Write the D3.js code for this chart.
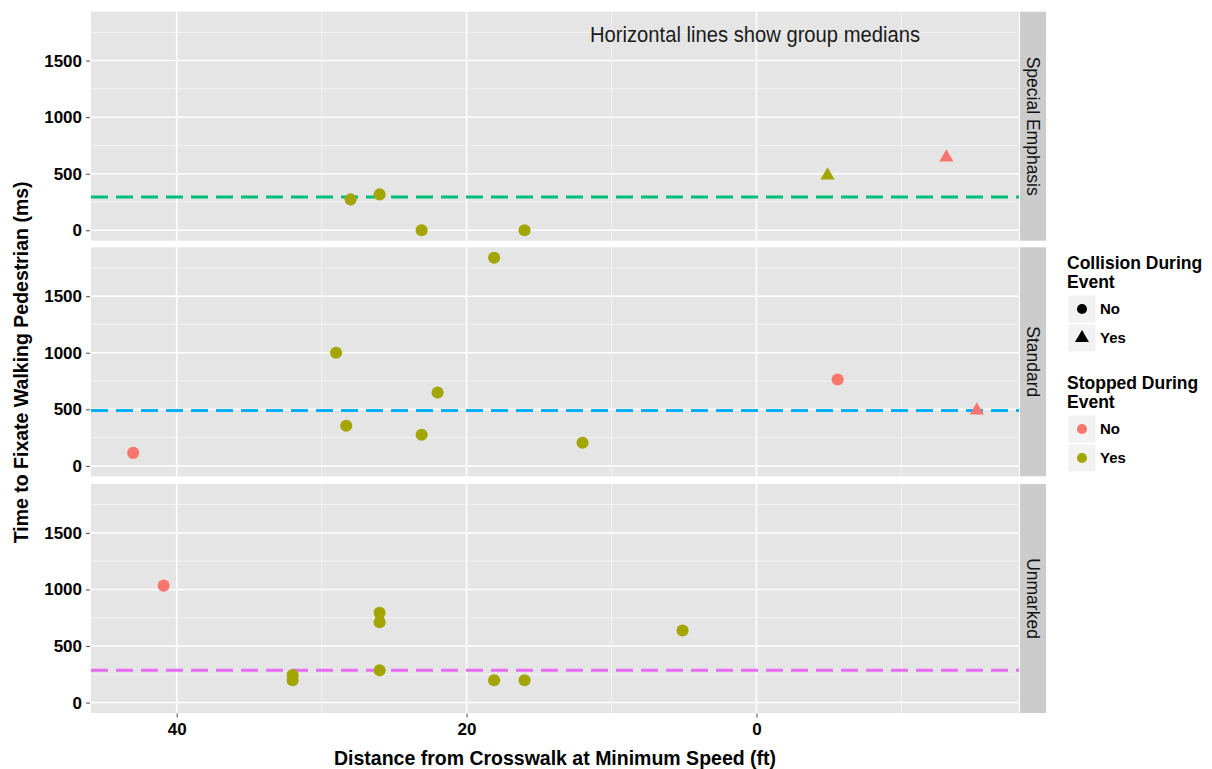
<!DOCTYPE html>
<html>
<head>
<meta charset="utf-8">
<script src="https://cdn.jsdelivr.net/npm/d3@7/dist/d3.min.js"></script>
<style>
  html, body { margin: 0; padding: 0; background: #ffffff; }
  svg text { font-family: Arial, "Liberation Sans", sans-serif; }
</style>
</head>
<body>
<svg id="chart" width="1212" height="769"></svg>
<script>
// ---- Data ----
const panels = ["Special Emphasis", "Standard", "Unmarked"];
const medianColors = ["#00BF7D", "#00B0F6", "#E76BF3"];

const specialX = [28, 26, 23.1, 16, -4.9, -13.1];
const specialY = [273, 317, 0, 0, 485, 644];
const specialCollision = ["No", "No", "No", "No", "Yes", "Yes"];
const specialStopped = ["Yes", "Yes", "Yes", "Yes", "Yes", "No"];

const standardX = [43, 29, 28.3, 23.1, 22, 18.1, 12, -5.6, -15.2];
const standardY = [115, 1000, 355, 275, 648, 1840, 204, 763, 490];
const standardCollision = ["No", "No", "No", "No", "No", "No", "No", "No", "Yes"];
const standardStopped = ["No", "Yes", "Yes", "Yes", "Yes", "Yes", "Yes", "No", "No"];

const unmarkedX = [40.9, 32, 32, 26, 26, 26, 18.1, 16, 5.1];
const unmarkedY = [1034, 243, 197, 793, 711, 285, 197, 197, 637];
const unmarkedCollision = ["No", "No", "No", "No", "No", "No", "No", "No", "No"];
const unmarkedStopped = ["No", "Yes", "Yes", "Yes", "Yes", "Yes", "Yes", "Yes", "Yes"];

const xTicks = [40, 20, 0];
const xMinorTicks = [30, 10, -10];
const yTicks = [0, 500, 1000, 1500];
const yMinorTicks = [250, 750, 1250, 1750];

const collisionLevels = ["No", "Yes"];
const stoppedLevels = ["No", "Yes"];
const stoppedColors = ["#F8766D", "#A3A500"];

const titleText = "Horizontal lines show group medians";
const xTitle = "Distance from Crosswalk at Minimum Speed (ft)";
const yTitle = "Time to Fixate Walking Pedestrian (ms)";

// ---- Build rows ----
const groups = [
  {name: panels[0], x: specialX, y: specialY, c: specialCollision, s: specialStopped},
  {name: panels[1], x: standardX, y: standardY, c: standardCollision, s: standardStopped},
  {name: panels[2], x: unmarkedX, y: unmarkedY, c: unmarkedCollision, s: unmarkedStopped}
].map((g, i) => ({
  name: g.name,
  color: medianColors[i],
  rows: g.x.map((v, j) => ({x: v, y: g.y[j], collision: g.c[j], stopped: g.s[j]}))
}));
groups.forEach(g => g.median = d3.median(g.rows, d => d.y));

const allRows = groups.flatMap(g => g.rows);
function expand(ext) { const r = ext[1] - ext[0]; return [ext[0] - 0.05 * r, ext[1] + 0.05 * r]; }
const xDom = expand(d3.extent(allRows, d => d.x));
const yDom = expand(d3.extent(allRows, d => d.y));

// ---- Layout ----
const svg = d3.select("#chart");
const panelLeft = 91, panelRight = 1019;
const panelTops = [11.7, 247.3, 484];
const panelH = 229;
const stripX = 1020, stripW = 26;

const x = d3.scaleLinear().domain([xDom[1], xDom[0]]).range([panelLeft, panelRight]);

const color = d3.scaleOrdinal().domain(stoppedLevels).range(stoppedColors);
const shape = d3.scaleOrdinal().domain(collisionLevels).range([d3.symbolCircle, d3.symbolTriangle]);
const shapeSize = d3.scaleOrdinal().domain(collisionLevels).range([115, 88]);

groups.forEach((g, i) => {
  const top = panelTops[i];
  const y = d3.scaleLinear().domain(yDom).range([top + panelH, top]);
  const p = svg.append("g");

  p.append("rect").attr("x", panelLeft).attr("y", top)
    .attr("width", panelRight - panelLeft).attr("height", panelH).attr("fill", "#E5E5E5");

  // minor grid
  p.selectAll(".ymin").data(yMinorTicks).enter().append("line")
    .attr("x1", panelLeft).attr("x2", panelRight)
    .attr("y1", d => y(d)).attr("y2", d => y(d))
    .attr("stroke", "#F2F2F2").attr("stroke-width", 1);
  p.selectAll(".xmin").data(xMinorTicks).enter().append("line")
    .attr("y1", top).attr("y2", top + panelH)
    .attr("x1", d => x(d)).attr("x2", d => x(d))
    .attr("stroke", "#F2F2F2").attr("stroke-width", 1);
  // major grid
  p.selectAll(".ymaj").data(yTicks).enter().append("line")
    .attr("x1", panelLeft).attr("x2", panelRight)
    .attr("y1", d => y(d)).attr("y2", d => y(d))
    .attr("stroke", "#FFFFFF").attr("stroke-width", 1.5);
  p.selectAll(".xmaj").data(xTicks).enter().append("line")
    .attr("y1", top).attr("y2", top + panelH)
    .attr("x1", d => x(d)).attr("x2", d => x(d))
    .attr("stroke", "#FFFFFF").attr("stroke-width", 1.5);

  // median line
  p.append("line")
    .attr("x1", panelLeft).attr("x2", panelRight)
    .attr("y1", y(g.median)).attr("y2", y(g.median))
    .attr("stroke", g.color).attr("stroke-width", 3)
    .attr("stroke-dasharray", "17,8");

  // points
  p.selectAll(".pt").data(g.rows).enter().append("path")
    .attr("transform", d => `translate(${x(d.x)},${y(d.y)})`)
    .attr("d", d => d3.symbol().type(shape(d.collision)).size(shapeSize(d.collision))())
    .attr("fill", d => color(d.stopped));

  // y axis
  const yAxis = d3.axisLeft(y).tickValues(yTicks).tickSize(4).tickPadding(4).tickFormat(d3.format("d"));
  const ya = svg.append("g").attr("transform", `translate(${panelLeft - 1},0)`).call(yAxis);
  ya.select(".domain").remove();
  ya.selectAll(".tick line").attr("stroke", "#4D4D4D");
  ya.selectAll("text").attr("font-size", 17).attr("font-weight", "bold").attr("fill", "#000");

  // strip
  svg.append("rect").attr("x", stripX).attr("y", top).attr("width", stripW).attr("height", panelH)
    .attr("fill", "#CCCCCC");
  svg.append("text")
    .attr("transform", `translate(${stripX + stripW / 2},${top + panelH / 2}) rotate(90)`)
    .attr("text-anchor", "middle").attr("dy", "0.35em")
    .attr("font-size", 17.5).attr("fill", "#111").text(g.name);

  if (i === 0) {
    svg.append("text").attr("x", 755).attr("y", 42)
      .attr("text-anchor", "middle")
      .style("font-family", "'Liberation Sans Narrow', 'Arial Narrow', Arial, sans-serif")
      .attr("font-size", 22).attr("fill", "#1a1a1a")
      .attr("textLength", 330).attr("lengthAdjust", "spacingAndGlyphs")
      .text(titleText);
  }
  if (i === 2) {
    const xAxis = d3.axisBottom(x).tickValues(xTicks).tickSize(4).tickPadding(5).tickFormat(d3.format("d"));
    const xa = svg.append("g").attr("transform", `translate(0,${top + panelH + 0.5})`).call(xAxis);
    xa.select(".domain").remove();
    xa.selectAll(".tick line").attr("stroke", "#4D4D4D");
    xa.selectAll("text").attr("font-size", 17).attr("font-weight", "bold").attr("fill", "#000");
  }
});

// axis titles
svg.append("text").attr("x", (panelLeft + panelRight) / 2).attr("y", 765)
  .attr("text-anchor", "middle").attr("font-size", 19.5).attr("font-weight", "bold")
  .attr("fill", "#000").text(xTitle);
svg.append("text")
  .attr("transform", `translate(28,${(panelTops[0] + panelTops[2] + panelH) / 2}) rotate(-90)`)
  .attr("text-anchor", "middle").attr("font-size", 19.5).attr("font-weight", "bold")
  .attr("fill", "#000").text(yTitle);

// ---- Legends ----
function legend(top, titleLines, levels, keyFn) {
  const lg = svg.append("g");
  titleLines.forEach((t, k) => {
    lg.append("text").attr("x", 1067).attr("y", top + k * 18.5)
      .attr("font-size", 17.5).attr("font-weight", "bold").attr("fill", "#000").text(t);
  });
  const keyTop = top + 26;
  levels.forEach((lv, k) => {
    const ky = keyTop + k * 29;
    lg.append("rect").attr("x", 1068).attr("y", ky).attr("width", 28).attr("height", 28)
      .attr("fill", "#F2F2F2").attr("stroke", "#FFFFFF").attr("stroke-width", 1);
    keyFn(lg, lv, 1082, ky + 14);
    lg.append("text").attr("x", 1100).attr("y", ky + 14).attr("dy", "0.35em")
      .attr("font-size", 15).attr("font-weight", "bold").attr("fill", "#000").text(lv);
  });
}
legend(269, ["Collision During", "Event"], collisionLevels, (lg, lv, cx, cy) => {
  lg.append("path").attr("transform", `translate(${cx},${cy})`)
    .attr("d", d3.symbol().type(shape(lv)).size(lv === "No" ? 80 : 85)())
    .attr("fill", "#000");
});
legend(389, ["Stopped During", "Event"], stoppedLevels, (lg, lv, cx, cy) => {
  lg.append("path").attr("transform", `translate(${cx},${cy})`)
    .attr("d", d3.symbol().type(d3.symbolCircle).size(80)())
    .attr("fill", color(lv));
});
</script>
</body>
</html>
